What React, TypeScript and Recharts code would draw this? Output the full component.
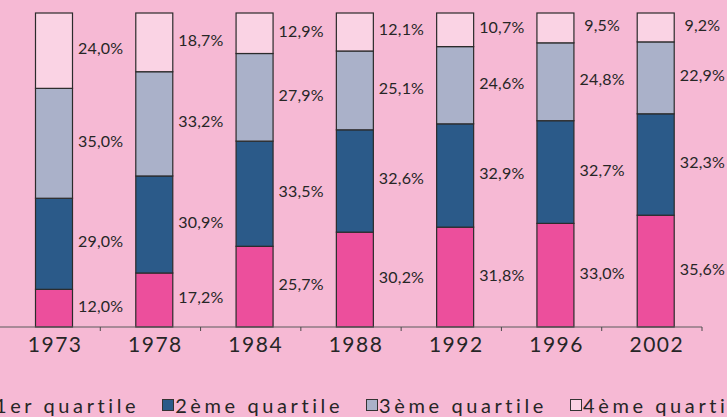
import { BarChart, Bar, XAxis, YAxis, Legend, LabelList } from 'recharts';

// Share of households by income quartile, per survey year (%)
const YEARS = ['1973', '1978', '1984', '1988', '1992', '1996', '2002'];
const Q1 = [12.0, 17.2, 25.7, 30.2, 31.8, 33.0, 35.6];
const Q2 = [29.0, 30.9, 33.5, 32.6, 32.9, 32.7, 32.3];
const Q3 = [35.0, 33.2, 27.9, 25.1, 24.6, 24.8, 22.9];
const Q4 = [24.0, 18.7, 12.9, 12.1, 10.7, 9.5, 9.2];
const SERIES_NAMES = ['1er quartile', '2ème quartile', '3ème quartile', '4ème quartile'];

const COLORS = ['#EC4F9C', '#2B5A89', '#AAB1C9', '#FAD3E4'];
const BG = '#F6B9D4';
const TEXT = '#262626';
const FONT = 'Lato, "Open Sans", sans-serif';

const WIDTH = 727;
const HEIGHT = 417;
const MARGIN = { top: 13, right: 25, left: 0, bottom: 60 };
const BAND = (WIDTH - MARGIN.left - MARGIN.right) / YEARS.length;
const KEYS = ['q1', 'q2', 'q3', 'q4'];

const data = YEARS.map((year, i) => ({
  year,
  q1: Q1[i],
  q2: Q2[i],
  q3: Q3[i],
  q4: Q4[i],
}));

const fmt = (v: number) => v.toFixed(1).replace('.', ',') + '%';

// bars sit a little right of the category centre in the original
const BarShape = (props: any) => (
  <rect
    x={props.x + 3.5}
    y={props.y}
    width={props.width}
    height={props.height}
    fill={props.fill}
    stroke="#2b2b2b"
    strokeWidth={1.2}
  />
);

// value label centred on the category boundary, right of the bar
const SegmentLabel = (props: any) => {
  const { x, y, width, height, value } = props;
  return (
    <text
      x={x + width / 2 + BAND / 2}
      y={y + height / 2 + 3.5}
      textAnchor="middle"
      fontSize={16}
      fontFamily={FONT}
      fill={TEXT}
      letterSpacing={0.2}
    >
      {fmt(value)}
    </text>
  );
};

const YearTick = (props: any) => {
  const { x, payload } = props;
  return (
    <g>
      <line x1={x + BAND / 2} x2={x + BAND / 2} y1={327} y2={331} stroke="#4a4a4a" strokeWidth={1} />
      <text
        x={x + 5}
        y={352}
        textAnchor="middle"
        fontSize={21}
        fontFamily={FONT}
        fill={TEXT}
        letterSpacing={1.5}
      >
        {payload.value}
      </text>
    </g>
  );
};

const LegendContent = () => (
  <div
    style={{
      display: 'flex',
      whiteSpace: 'nowrap',
      fontFamily: FONT,
      fontSize: 20,
      letterSpacing: 3.6,
      color: TEXT,
      alignItems: 'center',
      lineHeight: '24px',
    }}
  >
    {SERIES_NAMES.map((name, i) => (
      <div key={name} style={{ display: 'flex', alignItems: 'center', marginRight: 23 }}>
        <span
          style={{
            display: 'inline-block',
            width: 10,
            height: 10,
            background: COLORS[i],
            border: '1px solid #333',
            marginRight: 1,
          }}
        />
        <span>{name}</span>
      </div>
    ))}
  </div>
);

export default function App() {
  return (
    <div
      style={{
        position: 'fixed',
        left: 0,
        top: 0,
        width: WIDTH,
        height: HEIGHT,
        overflow: 'hidden',
        background: BG,
      }}
    >
      <BarChart width={WIDTH} height={HEIGHT} data={data} margin={MARGIN} barSize={37}>
        <XAxis
          dataKey="year"
          height={30}
          tickLine={false}
          tickSize={0}
          tickMargin={0}
          axisLine={{ stroke: '#5a5a5a', strokeWidth: 1 }}
          tick={<YearTick />}
          interval={0}
        />
        <YAxis hide domain={[0, 100]} />
        <Legend
          verticalAlign="middle"
          align="center"
          layout="horizontal"
          content={<LegendContent />}
          wrapperStyle={{ top: 393, left: -18, width: 1000, height: 24 }}
        />
        {KEYS.map((key, i) => (
          <Bar
            key={key}
            dataKey={key}
            stackId="q"
            fill={COLORS[i]}
            name={SERIES_NAMES[i]}
            shape={BarShape}
            isAnimationActive={false}
          >
            <LabelList dataKey={key} content={SegmentLabel} />
          </Bar>
        ))}
      </BarChart>
    </div>
  );
}
